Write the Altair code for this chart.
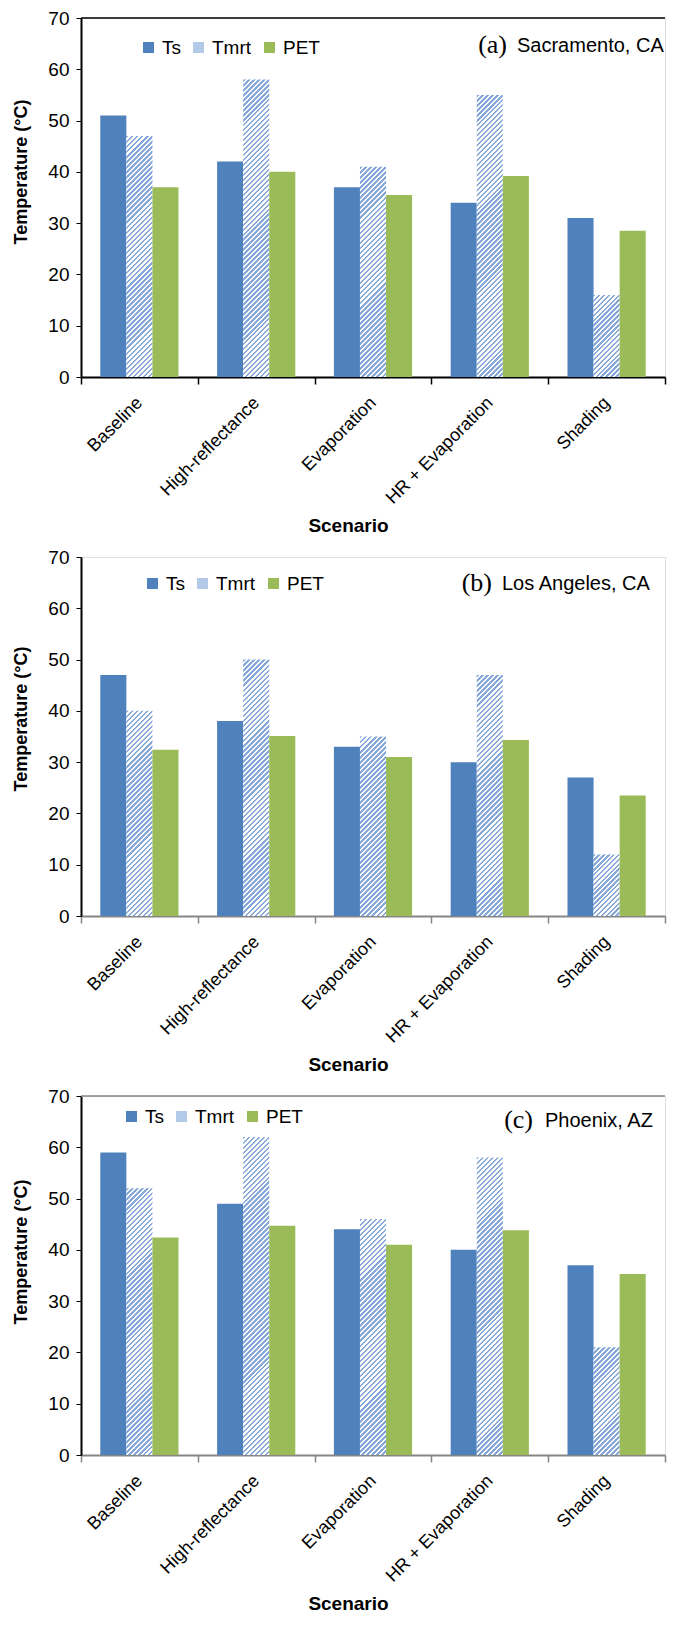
import altair as alt
import pandas as pd

# ---------------- data ----------------
scenarios = ["Baseline", "High-reflectance", "Evaporation", "HR + Evaporation", "Shading"]
series = ["Ts", "Tmrt", "PET"]

letters = ["(a)", "(b)", "(c)"]
places = ["Sacramento, CA", "Los Angeles, CA", "Phoenix, AZ"]

sac_ts = [51, 42, 37, 34, 31]
sac_tmrt = [47, 58, 41, 55, 16]
sac_pet = [37, 40, 35.5, 39.2, 28.5]

la_ts = [47, 38, 33, 30, 27]
la_tmrt = [40, 50, 35, 47, 12]
la_pet = [32.4, 35.1, 31, 34.3, 23.5]

phx_ts = [59, 49, 44, 40, 37]
phx_tmrt = [52, 62, 46, 58, 21]
phx_pet = [42.4, 44.7, 41, 43.8, 35.3]

# ---------------- layout / style ----------------
W = 584
H = 359
YMAX = 70
XO_PAD = 0.74
STEP = W / len(scenarios)
BAR_W = STEP / (3 + 2 * XO_PAD)
FONT = "Liberation Sans"
BLUE = "#4f81bd"
GREEN = "#9bbb59"
STRIPE = "#86a9da"
LEGEND_TMRT = "#b3c9e8"


def hatch(value):
    """Diagonal stripe fill for one bar (object bounding box gradient)."""
    w = BAR_W
    h = max(value * H / YMAX, 1.0)
    r = w / h
    b = (1 + r) / (1 + r * r)
    a = r * b
    n = max(1, round((w + h) / 5.0))
    stops = []
    for k in range(n):
        t0 = k / n
        tm = (k + 0.5) / n
        t1 = (k + 1) / n
        stops += [
            {"offset": t0, "color": STRIPE},
            {"offset": tm, "color": STRIPE},
            {"offset": tm, "color": "#ffffff"},
            {"offset": t1, "color": "#ffffff"},
        ]
    return {"gradient": "linear", "x1": 0, "y1": 0, "x2": a, "y2": b, "stops": stops}


def make_df(ts, tmrt, pet):
    rows = []
    for i, s in enumerate(scenarios):
        rows.append({"Scenario": s, "Series": "Ts", "Value": ts[i]})
        rows.append({"Scenario": s, "Series": "Tmrt", "Value": tmrt[i]})
        rows.append({"Scenario": s, "Series": "PET", "Value": pet[i]})
    return pd.DataFrame(rows)


def panel(idx, ts, tmrt, pet, xcolor, topcolor, lx, ly, letter_x, place_x, text_y, ytitle_shift):
    df = make_df(ts, tmrt, pet)
    conds = []
    for i, s in enumerate(scenarios):
        conds.append({
            "test": f"datum.Series === 'Tmrt' && datum.Scenario === '{s}'",
            "value": hatch(tmrt[i]),
        })
    bars = alt.Chart(df).mark_bar().encode(
        x=alt.X(
            "Scenario:N",
            sort=scenarios,
            scale=alt.Scale(paddingInner=0, paddingOuter=0),
            axis=alt.Axis(
                title="Scenario",
                titleFont=FONT,
                titleFontSize=19,
                titleFontWeight="bold",
                titleColor="#000000",
                titleX=W / 2 - 25,
                labelFont=FONT,
                labelColor="#000000",
                labelAngle=-45,
                labelAlign="right",
                labelBaseline="middle",
                tickBand="extent",
                tickSize=7,
                tickColor=xcolor,
                domainColor=xcolor,
                domainWidth=2,
                tickWidth=1.5,
                labelFontSize=18,
                labelPadding=16,
                titlePadding=9,
            ),
        ),
        xOffset=alt.XOffset(
            "Series:N",
            sort=series,
            scale=alt.Scale(domain=series, paddingInner=0, paddingOuter=XO_PAD),
        ),
        y=alt.Y(
            "Value:Q",
            scale=alt.Scale(domain=[0, YMAX], nice=False),
            axis=alt.Axis(
                title="Temperature (°C)",
                titleFont=FONT,
                titleFontSize=18,
                titleFontWeight="bold",
                titleColor="#000000",
                titleY=H / 2 - ytitle_shift,
                labelFont=FONT,
                labelColor="#000000",
                values=list(range(0, YMAX + 1, 10)),
                grid=False,
                tickSize=5,
                tickColor="#000000",
                domainColor="#000000",
                domainWidth=2,
                labelFontSize=19,
                labelPadding=7,
                titlePadding=17,
            ),
        ),
        fill=alt.Fill(
            "Series:N",
            sort=series,
            scale=alt.Scale(domain=series, range=[BLUE, LEGEND_TMRT, GREEN]),
            legend=alt.Legend(
                title=None,
                orient="none",
                legendX=lx,
                legendY=ly,
                direction="horizontal",
                gridAlign="none",
                symbolType="square",
                symbolSize=121,
                symbolStrokeWidth=0,
                labelFontSize=19,
                labelFont=FONT,
                labelColor="#000000",
                labelOffset=4,
                columnPadding=8,
                padding=0,
            ),
            condition=conds,
        ),
    )
    layers = [bars]
    if topcolor:
        top = alt.Chart(pd.DataFrame({"v": [YMAX]})).mark_rule(
            color=topcolor, strokeWidth=1.5
        ).encode(x=alt.value(0), x2=alt.value(W), y=alt.value(0))
        layers.append(top)
    lt = alt.Chart(pd.DataFrame({"t": [letters[idx]]})).mark_text(
        font="Liberation Serif", fontSize=26, align="right", baseline="middle", color="#000000"
    ).encode(text="t:N", x=alt.value(letter_x), y=alt.value(text_y))
    pt = alt.Chart(pd.DataFrame({"t": [places[idx]]})).mark_text(
        font=FONT, fontSize=20, align="left", baseline="middle", color="#000000"
    ).encode(text="t:N", x=alt.value(place_x), y=alt.value(text_y + 1))
    layers += [lt, pt]
    return alt.layer(*layers).properties(width=W, height=H)


pa = panel(0, sac_ts, sac_tmrt, sac_pet, "#000000", "#000000", 58, 20, 426, 436, 27, 26)
pb = panel(1, la_ts, la_tmrt, la_pet, "#868686", None, 62, 17, 411, 421, 26, 18)
pc = panel(2, phx_ts, phx_tmrt, phx_pet, "#868686", "#868686", 41, 11, 452, 464, 24, 24)

chart = (
    alt.vconcat(pa, pb, pc, spacing=11)
    .resolve_scale(fill="independent")
    .resolve_legend(fill="independent")
    .properties(padding={"left": 4, "top": 0, "right": 0, "bottom": 0})
    .configure_view(stroke=None)
    .configure(background="white")
)

chart.save("out.html", embed_options={"renderer": "svg", "actions": False})
